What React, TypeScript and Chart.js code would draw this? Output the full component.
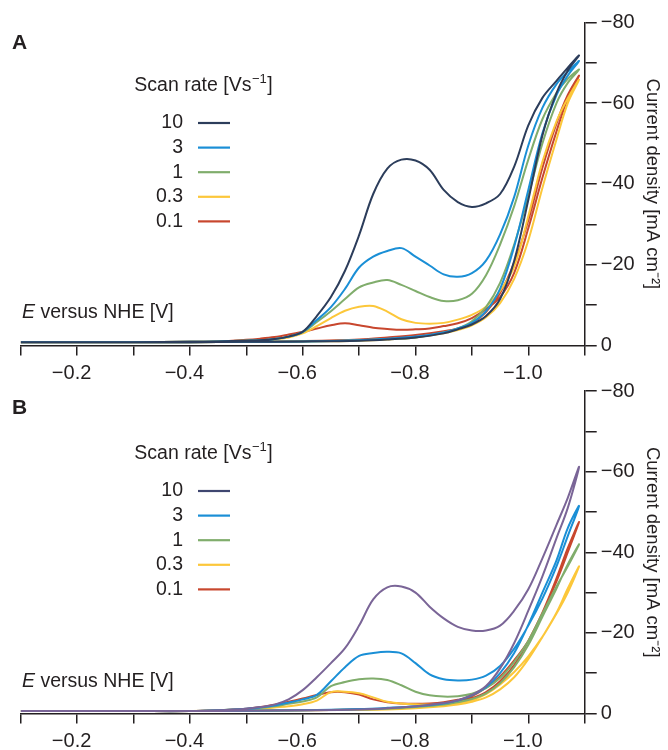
import React, { useEffect, useRef } from "react";
import { Chart, registerables } from "chart.js";

Chart.register(...registerables);

// ---------- data ----------
const scanRates = ["10", "3", "1", "0.3", "0.1"];

// potential grid (V vs NHE) for cathodic (forward) and anodic (return) sweeps
const potentialFwd = [-0.10, -0.20, -0.30, -0.40, -0.45, -0.50, -0.525, -0.55, -0.575, -0.60, -0.625, -0.65, -0.675, -0.70, -0.725, -0.75, -0.775, -0.80, -0.825, -0.85, -0.875, -0.90, -0.925, -0.95, -0.975, -1.00, -1.025, -1.05, -1.07, -1.09];
const potentialRev = [-1.07, -1.05, -1.025, -1.00, -0.975, -0.95, -0.925, -0.90, -0.875, -0.85, -0.80, -0.75, -0.70, -0.60, -0.50, -0.40, -0.30, -0.20, -0.10];

// Panel A current densities (mA cm^-2)
const a10Fwd = [-0.8, -0.8, -0.8, -0.9, -1.0, -1.2, -1.3, -1.6, -2.2, -3.4, -7.3, -12.0, -18.5, -27.3, -37.5, -43.8, -46.0, -45.8, -43.5, -38.5, -35.5, -34.3, -35.2, -37.5, -44.3, -54.5, -61.3, -65.5, -68.8, -71.8];
const a10Rev = [-68.0, -62.5, -52.0, -36.0, -21.0, -11.5, -7.3, -5.2, -4.0, -3.0, -2.0, -1.5, -1.2, -1.0, -0.9, -0.8, -0.8, -0.8, -0.8];
const a3Fwd = [-0.8, -0.8, -0.8, -0.9, -1.0, -1.2, -1.3, -1.6, -2.2, -3.4, -6.3, -9.5, -14.0, -19.3, -22.0, -23.4, -24.1, -22.0, -19.8, -17.6, -17.0, -17.9, -21.0, -27.5, -36.8, -49.5, -58.8, -64.7, -67.8, -70.4];
const a3Rev = [-66.8, -62.0, -52.5, -38.5, -24.5, -14.0, -8.5, -5.6, -4.2, -3.2, -2.2, -1.7, -1.3, -1.0, -0.9, -0.8, -0.8, -0.8, -0.8];
const a1Fwd = [-0.8, -0.8, -0.8, -0.9, -1.0, -1.2, -1.3, -1.6, -2.2, -3.3, -5.8, -8.5, -11.5, -14.4, -15.6, -16.2, -15.0, -13.5, -12.0, -11.0, -11.2, -12.8, -17.4, -25.0, -34.5, -46.0, -56.0, -62.5, -66.0, -68.3];
const a1Rev = [-65.0, -60.0, -50.0, -37.0, -25.0, -15.5, -9.5, -6.0, -4.2, -3.2, -2.0, -1.6, -1.3, -1.0, -0.9, -0.8, -0.8, -0.8, -0.8];
const a03Fwd = [-0.8, -0.8, -0.8, -0.9, -1.0, -1.2, -1.3, -1.5, -2.0, -3.0, -4.8, -6.8, -8.6, -9.6, -9.8, -8.4, -6.5, -5.6, -5.4, -5.6, -6.4, -7.6, -9.6, -13.5, -19.5, -32.0, -45.5, -55.5, -61.2, -65.8];
const a03Rev = [-60.0, -51.0, -39.0, -26.0, -16.5, -10.5, -7.0, -5.0, -3.8, -3.0, -2.0, -1.5, -1.2, -1.0, -0.9, -0.8, -0.8, -0.8, -0.8];
const a01Fwd = [-0.8, -0.8, -0.8, -0.9, -1.0, -1.4, -1.7, -2.1, -2.7, -3.4, -4.2, -5.0, -5.5, -5.0, -4.4, -4.1, -3.9, -4.0, -4.2, -4.8, -5.5, -6.8, -9.0, -12.0, -18.0, -29.0, -41.5, -53.0, -61.2, -66.8];
const a01Rev = [-62.0, -55.0, -44.0, -31.0, -20.5, -13.0, -8.3, -5.5, -4.2, -3.5, -2.6, -2.0, -1.5, -1.1, -0.9, -0.8, -0.8, -0.8, -0.8];

// Panel B current densities (mA cm^-2)
const b10Fwd = [-0.6, -0.6, -0.6, -0.6, -0.8, -1.2, -1.6, -2.2, -3.5, -5.8, -9.0, -12.5, -16.2, -21.8, -28.3, -31.3, -31.5, -30.0, -26.5, -23.6, -21.5, -20.6, -20.6, -21.8, -25.5, -30.8, -38.5, -46.8, -53.5, -61.2];
const b10Rev = [-51.0, -43.5, -34.0, -25.5, -17.5, -11.2, -6.8, -4.6, -3.3, -2.6, -1.8, -1.3, -1.0, -0.8, -0.7, -0.6, -0.6, -0.6, -0.6];
const b3Fwd = [-0.6, -0.6, -0.6, -0.6, -0.8, -1.2, -1.5, -2.0, -2.7, -3.5, -4.6, -8.0, -11.5, -14.3, -15.0, -15.3, -14.9, -12.5, -9.7, -8.5, -8.2, -8.4, -9.4, -11.8, -16.1, -21.8, -28.5, -36.5, -44.0, -51.5];
const b3Rev = [-46.0, -38.0, -30.0, -22.0, -15.0, -10.0, -6.5, -4.5, -3.2, -2.5, -1.8, -1.4, -1.1, -0.8, -0.7, -0.6, -0.6, -0.6, -0.6];
const b1Fwd = [-0.6, -0.6, -0.6, -0.6, -0.8, -1.1, -1.4, -1.8, -2.4, -3.0, -4.0, -6.8, -7.8, -8.5, -8.7, -8.3, -7.0, -5.4, -4.5, -4.2, -4.3, -4.9, -6.3, -8.8, -12.8, -18.0, -24.8, -31.5, -36.5, -42.0];
const b1Rev = [-37.0, -31.0, -24.0, -17.0, -11.5, -7.5, -5.0, -3.6, -2.8, -2.2, -1.6, -1.2, -1.0, -0.8, -0.7, -0.6, -0.6, -0.6, -0.6];
const b03Fwd = [-0.6, -0.6, -0.6, -0.6, -0.8, -1.0, -1.2, -1.5, -1.8, -2.3, -3.2, -5.3, -5.4, -5.0, -4.0, -2.9, -2.5, -2.3, -2.2, -2.1, -2.5, -3.3, -4.8, -7.2, -10.3, -14.2, -19.0, -24.8, -30.0, -36.5];
const b03Rev = [-31.0, -25.0, -19.0, -13.5, -9.0, -6.0, -4.0, -2.9, -2.2, -1.8, -1.3, -1.0, -0.9, -0.8, -0.7, -0.6, -0.6, -0.6, -0.6];
const b01Fwd = [-0.6, -0.6, -0.6, -0.6, -0.8, -1.2, -1.6, -2.2, -2.9, -3.7, -4.6, -5.3, -5.3, -4.7, -3.5, -2.8, -2.5, -2.4, -2.5, -2.8, -3.4, -4.3, -6.4, -9.2, -13.2, -18.0, -25.0, -32.8, -40.0, -47.5];
const b01Rev = [-41.0, -33.5, -25.0, -18.0, -12.0, -8.0, -5.3, -3.8, -2.9, -2.3, -1.6, -1.2, -1.0, -0.8, -0.7, -0.6, -0.6, -0.6, -0.6];

const colorsA = ["#2c3d5b", "#1a8fd6", "#80ad6c", "#fcc73a", "#c8472e"];
const colorsB = ["#7a6597", "#1a8fd6", "#80ad6c", "#fcc73a", "#c8472e"];
const legendColorsB = ["#3f4670", "#1a8fd6", "#80ad6c", "#fcc73a", "#c8472e"];

const xTicksMin = -1.1;
const xTicksMax = -0.1;
const yTicksMin = -80;
const yTicksMax = 0;

// ---------- styling ----------
const FONT = '"Liberation Sans", Arial, Helvetica, sans-serif';
const INK = "#231f20";

function loop(fwd: number[], rev: number[]) {
  const pts: { x: number; y: number }[] = [];
  potentialFwd.forEach((e, i) => pts.push({ x: e, y: fwd[i] }));
  potentialRev.forEach((e, i) => pts.push({ x: e, y: rev[i] }));
  return pts;
}

const panelTextPlugin = {
  id: "panelText",
  afterDraw(chart: any, _args: any, opts: any) {
    const ctx = chart.ctx as CanvasRenderingContext2D;
    ctx.save();
    ctx.fillStyle = INK;
    ctx.textBaseline = "middle";
    // panel letter
    ctx.textAlign = "left";
    ctx.font = `bold 21px ${FONT}`;
    ctx.fillText(opts.letter, 12, opts.letterY);
    // x-axis caption
    ctx.font = `italic 19.5px ${FONT}`;
    ctx.fillText("E", 22, opts.xTitleY);
    const wE = ctx.measureText("E ").width;
    ctx.font = `19.5px ${FONT}`;
    ctx.fillText("versus NHE [V]", 22 + wE, opts.xTitleY);
    // legend title with superscript
    const main = "Scan rate [Vs";
    const sup = "\u22121";
    const close = "]";
    ctx.font = `19.5px ${FONT}`;
    const wMain = ctx.measureText(main).width;
    const wClose = ctx.measureText(close).width;
    ctx.font = `13px ${FONT}`;
    const wSup = ctx.measureText(sup).width;
    const total = wMain + wSup + wClose + 1;
    const x0 = 203.5 - total / 2;
    ctx.font = `19.5px ${FONT}`;
    ctx.fillText(main, x0, opts.legendTitleY);
    ctx.font = `13px ${FONT}`;
    ctx.fillText(sup, x0 + wMain + 0.5, opts.legendTitleY - 7);
    ctx.font = `19.5px ${FONT}`;
    ctx.fillText(close, x0 + wMain + wSup + 1, opts.legendTitleY);
    // legend rows
    chart.data.datasets.forEach((ds: any, i: number) => {
      const y = opts.rowsY0 + i * 24.6;
      ctx.textAlign = "right";
      ctx.fillStyle = INK;
      ctx.font = `19.5px ${FONT}`;
      ctx.fillText(ds.label, 183, y);
      ctx.strokeStyle = opts.legendColors[i];
      ctx.lineWidth = 2.2;
      ctx.beginPath();
      ctx.moveTo(198, y);
      ctx.lineTo(230, y);
      ctx.stroke();
    });
    ctx.restore();
  },
};

type Panel = {
  letter: string;
  canvasTop: number;
  canvasH: number;
  padTop: number;
  areaBottom: number;
  letterY: number;
  xTitleY: number;
  legendTitleY: number;
  rowsY0: number;
  series: { fwd: number[]; rev: number[] }[];
  colors: string[];
  legendColors: string[];
};

const panels: Panel[] = [
  {
    letter: "A",
    canvasTop: 0,
    canvasH: 400,
    padTop: 22.3,
    areaBottom: 345.5,
    letterY: 43,
    xTitleY: 313,
    legendTitleY: 86,
    rowsY0: 123,
    series: [
      { fwd: a10Fwd, rev: a10Rev },
      { fwd: a3Fwd, rev: a3Rev },
      { fwd: a1Fwd, rev: a1Rev },
      { fwd: a03Fwd, rev: a03Rev },
      { fwd: a01Fwd, rev: a01Rev },
    ],
    colors: colorsA,
    legendColors: colorsA,
  },
  {
    letter: "B",
    canvasTop: 375,
    canvasH: 375,
    padTop: 15,
    areaBottom: 338.5,
    letterY: 33,
    xTitleY: 306.7,
    legendTitleY: 79,
    rowsY0: 116,
    series: [
      { fwd: b10Fwd, rev: b10Rev },
      { fwd: b3Fwd, rev: b3Rev },
      { fwd: b1Fwd, rev: b1Rev },
      { fwd: b03Fwd, rev: b03Rev },
      { fwd: b01Fwd, rev: b01Rev },
    ],
    colors: colorsB,
    legendColors: legendColorsB,
  },
];

function buildChart(canvas: HTMLCanvasElement, p: Panel) {
  return new Chart(canvas, {
    type: "scatter",
    data: {
      datasets: p.series.map((s, i) => ({
        label: scanRates[i],
        data: loop(s.fwd, s.rev),
        borderColor: p.colors[i],
        backgroundColor: p.colors[i],
        borderWidth: 2,
        pointRadius: 0,
        pointHoverRadius: 0,
        showLine: true,
        tension: 0.35,
        fill: false,
      })),
    },
    options: {
      animation: false,
      responsive: false,
      devicePixelRatio: 1,
      events: [],
      layout: { padding: { left: 20.7, top: p.padTop, right: 0, bottom: 0 } },
      plugins: {
        legend: { display: false },
        tooltip: { enabled: false },
        panelText: {
          letter: p.letter,
          letterY: p.letterY,
          xTitleY: p.xTitleY,
          legendTitleY: p.legendTitleY,
          rowsY0: p.rowsY0,
          legendColors: p.legendColors,
        },
      } as any,
      scales: {
        x: {
          type: "linear",
          position: "bottom",
          min: xTicksMin,
          max: xTicksMax,
          reverse: true,
          afterFit: (scale: any) => {
            scale.height = p.canvasH - p.areaBottom;
          },
          grid: {
            drawOnChartArea: false,
            drawTicks: true,
            tickLength: 10,
            color: INK,
            lineWidth: 1.5,
          },
          border: { display: true, color: INK, width: 1.5 },
          ticks: {
            stepSize: 0.1,
            autoSkip: false,
            maxRotation: 0,
            minRotation: 0,
            padding: 6,
            labelOffset: -5.5,
            color: INK,
            font: { family: FONT, size: 20 },
            callback: (v: any) => {
              const k = Math.round(Number(v) * 10);
              if (k % 2 !== 0 || k === 0) return "";
              return (k < 0 ? "\u2212" : "") + Math.abs(k / 10).toFixed(1);
            },
          },
        },
        y: {
          type: "linear",
          position: "right",
          min: yTicksMin,
          max: yTicksMax,
          reverse: true,
          afterFit: (scale: any) => {
            scale.width = 83.3;
          },
          grid: {
            drawOnChartArea: false,
            drawTicks: true,
            tickLength: 12,
            color: INK,
            lineWidth: 1.5,
          },
          border: { display: true, color: INK, width: 1.5 },
          ticks: {
            stepSize: 10,
            autoSkip: false,
            padding: 4,
            color: INK,
            font: { family: FONT, size: 20 },
            callback: (v: any) => {
              const k = Math.round(Number(v));
              if (k % 20 !== 0) return "";
              return k < 0 ? "\u2212" + Math.abs(k) : "0";
            },
          },
          title: {
            display: true,
            text: "Current density [mA cm\u207B\u00B2]",
            color: INK,
            font: { family: FONT, size: 18.5 },
            padding: { top: 5, bottom: 0 },
          },
        },
      },
    },
    plugins: [panelTextPlugin as any],
  } as any);
}

export default function App() {
  const refA = useRef<HTMLCanvasElement>(null);
  const refB = useRef<HTMLCanvasElement>(null);

  useEffect(() => {
    const charts: Chart[] = [];
    if (refA.current) charts.push(buildChart(refA.current, panels[0]));
    if (refB.current) charts.push(buildChart(refB.current, panels[1]));
    return () => charts.forEach((c) => c.destroy());
  }, []);

  return (
    <div
      style={{
        position: "absolute",
        left: 0,
        top: 0,
        width: 668,
        height: 750,
        background: "#ffffff",
        overflow: "hidden",
      }}
    >
      <canvas
        ref={refA}
        width={668}
        height={panels[0].canvasH}
        style={{ position: "absolute", left: 0, top: panels[0].canvasTop }}
      />
      <canvas
        ref={refB}
        width={668}
        height={panels[1].canvasH}
        style={{ position: "absolute", left: 0, top: panels[1].canvasTop }}
      />
    </div>
  );
}
